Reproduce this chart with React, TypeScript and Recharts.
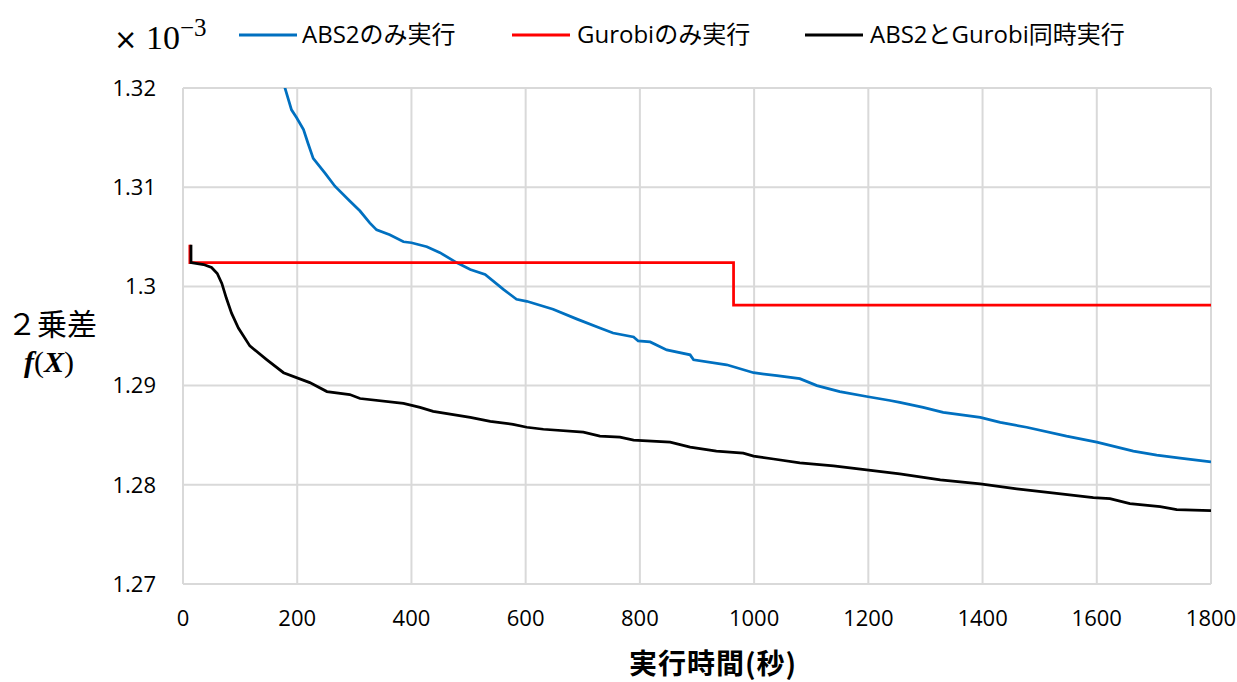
import React from "react";
import { LineChart, Line, XAxis, YAxis, CartesianGrid } from "recharts";

// ---- data (y values in units of 10^-3) ----
const xTicks = [0, 200, 400, 600, 800, 1000, 1200, 1400, 1600, 1800];
const yTicks = [1.27, 1.28, 1.29, 1.3, 1.31, 1.32];

const abs2Times = [172, 177, 190, 199, 211, 219, 228, 249, 266, 292, 310, 327, 339, 362, 386, 400, 427, 450, 479, 503, 529, 561, 584, 602, 648, 690, 730, 753, 789, 797, 818, 847, 888, 894, 952, 999, 1040, 1080, 1110, 1150, 1197, 1238, 1255, 1296, 1331, 1396, 1431, 1477, 1547, 1600, 1664, 1705, 1746, 1800];
const abs2Values = [1.3213, 1.3203, 1.3178, 1.317, 1.3158, 1.3144, 1.3129, 1.3114, 1.3101, 1.3086, 1.3076, 1.3064, 1.3057, 1.3052, 1.3045, 1.3044, 1.304, 1.3034, 1.3024, 1.3017, 1.3012, 1.2997, 1.2987, 1.2985, 1.2977, 1.2967, 1.2958, 1.2953, 1.2949, 1.2945, 1.2944, 1.2936, 1.2931, 1.2926, 1.2921, 1.2913, 1.291, 1.2907, 1.29, 1.2894, 1.2889, 1.2885, 1.2883, 1.2878, 1.2873, 1.2868, 1.2863, 1.2858, 1.2849, 1.2843, 1.2834, 1.283, 1.2827, 1.2823];

const gurobiTimes = [12, 12, 964, 964, 1800];
const gurobiValues = [1.3042, 1.3024, 1.3024, 1.2981, 1.2981];

const bothTimes = [14, 14, 36, 50, 60, 68, 76, 85, 97, 117, 147, 176, 222, 252, 292, 310, 386, 415, 438, 503, 538, 578, 602, 631, 701, 730, 765, 789, 853, 888, 934, 981, 999, 1034, 1080, 1139, 1197, 1255, 1326, 1396, 1460, 1518, 1594, 1623, 1658, 1711, 1740, 1800];
const bothValues = [1.3042, 1.3024, 1.3022, 1.3019, 1.3013, 1.3003, 1.2988, 1.2973, 1.2958, 1.294, 1.2926, 1.2913, 1.2903, 1.2894, 1.2891, 1.2887, 1.2882, 1.2878, 1.2874, 1.2868, 1.2864, 1.2861, 1.2858, 1.2856, 1.2853, 1.2849, 1.2848, 1.2845, 1.2843, 1.2838, 1.2834, 1.2832, 1.2829, 1.2826, 1.2822, 1.2819, 1.2815, 1.2811, 1.2805, 1.2801, 1.2796, 1.2792, 1.2787, 1.2786, 1.2781, 1.2778, 1.2775, 1.2774];

const seriesNames = ["ABS2のみ実行", "Gurobiのみ実行", "ABS2とGurobi同時実行"];
const seriesColors = ["#0070C0", "#FF0000", "#000000"];

const xTitle = "実行時間(秒)";
const yTitle = "２乗差";

const toPoints = (ts: number[], vs: number[]) => ts.map((t, i) => ({ t, v: vs[i] }));

const series = [
  { name: seriesNames[0], color: seriesColors[0], data: toPoints(abs2Times, abs2Values) },
  { name: seriesNames[1], color: seriesColors[1], data: toPoints(gurobiTimes, gurobiValues) },
  { name: seriesNames[2], color: seriesColors[2], data: toPoints(bothTimes, bothValues) },
];

const W = 1237;
const H = 682;
const FONT = "'Open Sans', 'Noto Sans CJK JP', sans-serif";
const CJK = "'Noto Sans CJK JP', sans-serif";
const SERIF = "'Liberation Serif', 'DejaVu Serif', serif";

const legendPos = [
  { lineX: 239, textX: 302 },
  { lineX: 512, textX: 577 },
  { lineX: 805, textX: 870 },
];

export default function App() {
  return (
    <div style={{ position: "absolute", left: 0, top: 0, width: W, height: H, background: "#fff" }}>
      <LineChart width={W} height={H} margin={{ top: 88, right: 26, bottom: 0, left: 0 }}>
        <CartesianGrid stroke="#d9d9d9" strokeWidth={2} />
        <XAxis
          type="number"
          dataKey="t"
          domain={[0, 1800]}
          ticks={xTicks}
          height={98}
          tickLine={false}
          tickSize={0}
          tickMargin={26}
          axisLine={{ stroke: "#d9d9d9", strokeWidth: 2 }}
          tick={{ fill: "#000", fontSize: 22, fontFamily: FONT }}
          allowDataOverflow
        />
        <YAxis
          type="number"
          dataKey="v"
          domain={[1.27, 1.32]}
          ticks={yTicks}
          width={183}
          tickLine={false}
          tickSize={0}
          tickMargin={27}
          axisLine={{ stroke: "#d9d9d9", strokeWidth: 2 }}
          tick={{ fill: "#000", fontSize: 22, fontFamily: FONT }}
          tickFormatter={(v: number) => String(v)}
          allowDataOverflow
        />
        {series.map((s) => (
          <Line
            key={s.name}
            data={s.data}
            dataKey="v"
            name={s.name}
            type="linear"
            stroke={s.color}
            strokeWidth={2.75}
            dot={false}
            activeDot={false}
            isAnimationActive={false}
          />
        ))}
      </LineChart>
      <svg
        width={W}
        height={H}
        style={{ position: "absolute", left: 0, top: 0, pointerEvents: "none" }}
      >
        <text x={114} y={49} fontSize={34} fontFamily={SERIF} fill="#000">
          <tspan fontFamily="'DejaVu Sans', sans-serif" fontSize={28}>×</tspan>
          <tspan> 10</tspan>
          <tspan dy={-13} fontSize={25}>−3</tspan>
        </text>
        {series.map((s, i) => (
          <g key={s.name}>
            <line
              x1={legendPos[i].lineX}
              x2={legendPos[i].lineX + 58}
              y1={35}
              y2={35}
              stroke={s.color}
              strokeWidth={3}
            />
            <text x={legendPos[i].textX} y={43} fontSize={24} fontFamily={FONT} fill="#000">
              {s.name}
            </text>
          </g>
        ))}
        <text x={52} y={335} fontSize={30} fontFamily={CJK} fontWeight={400} textAnchor="middle" fill="#000">
          {yTitle}
        </text>
        <text x={49} y={372} fontSize={30} fontFamily={SERIF} textAnchor="middle" fill="#000">
          <tspan fontStyle="italic" fontWeight="bold">f</tspan>
          <tspan>(</tspan>
          <tspan fontStyle="italic" fontWeight="bold">X</tspan>
          <tspan>)</tspan>
        </text>
        <text x={713} y={674} fontSize={28} fontFamily={CJK} fontWeight={700} letterSpacing={1} textAnchor="middle" fill="#000">
          {xTitle}
        </text>
      </svg>
    </div>
  );
}
